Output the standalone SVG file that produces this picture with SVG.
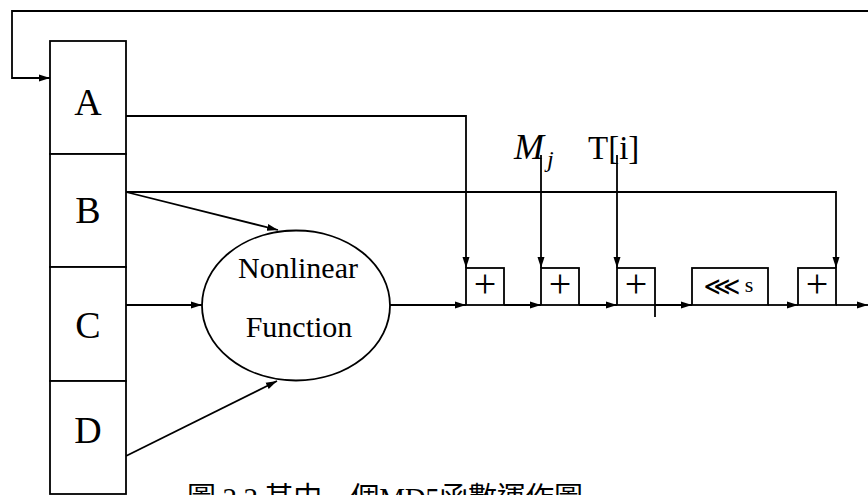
<svg xmlns="http://www.w3.org/2000/svg" width="868" height="495" viewBox="0 0 868 495">
<defs>
<marker id="ah" markerWidth="11" markerHeight="8" refX="11" refY="4" orient="auto" markerUnits="userSpaceOnUse">
<path d="M0,0.5 L11,4 L0,7.5 z" fill="#000"/>
</marker>
<style>
.box{fill:#fff;stroke:#000;stroke-width:1.8}
.ln{fill:none;stroke:#000;stroke-width:1.8}
.ar{fill:none;stroke:#000;stroke-width:1.8;marker-end:url(#ah)}
.reg{font-family:"Liberation Serif",serif;font-size:38px;text-anchor:middle}
.fn{font-family:"Liberation Serif",serif;font-size:30px;text-anchor:middle}
.pl{font-family:"Liberation Serif",serif;font-size:40px;text-anchor:middle}
.lab{font-family:"Liberation Serif",serif;font-size:33px}
</style>
</defs>
<rect width="868" height="495" fill="#fff"/>

<g id="connectors">
<polyline class="ar" points="868,11 12,11 12,78 50,78"/>
<polyline class="ar" points="126,116 466,116 466,268"/>
<polyline class="ar" points="126,192 836,192 836,268"/>
<line class="ar" x1="126" y1="192" x2="278" y2="230"/>
<line class="ar" x1="126" y1="305" x2="202" y2="305"/>
<line class="ar" x1="126" y1="456" x2="277" y2="381"/>
<line class="ar" x1="390" y1="305" x2="466" y2="305"/>
<line class="ar" x1="541" y1="155" x2="541" y2="268"/>
<line class="ar" x1="617" y1="155" x2="617" y2="268"/>
<line class="ar" x1="504" y1="305" x2="541" y2="305"/>
<line class="ar" x1="579" y1="305" x2="617" y2="305"/>
<line class="ar" x1="655" y1="305" x2="692" y2="305"/>
<line class="ar" x1="768" y1="305" x2="798" y2="305"/>
<line class="ar" x1="836" y1="305" x2="868" y2="305"/>
</g>

<g id="regA"><rect class="box" x="50" y="41" width="76" height="113"/><text class="reg" x="88" y="115">A</text></g>
<g id="regB"><rect class="box" x="50" y="154" width="76" height="113"/><text class="reg" x="88" y="223">B</text></g>
<g id="regC"><rect class="box" x="50" y="267" width="76" height="114"/><text class="reg" x="88" y="338">C</text></g>
<g id="regD"><rect class="box" x="50" y="381" width="76" height="113"/><text class="reg" x="88" y="443">D</text></g>

<g id="nonlinear">
<ellipse class="box" cx="296" cy="305.5" rx="94" ry="75"/>
<text class="fn" x="298" y="278">Nonlinear</text>
<text class="fn" x="299" y="337">Function</text>
</g>

<g id="add1"><rect class="box" x="466" y="268" width="38" height="37"/><text class="pl" x="485" y="297">+</text></g>
<g id="add2"><rect class="box" x="541" y="268" width="38" height="37"/><text class="pl" x="560" y="297">+</text></g>
<g id="add3"><rect class="box" x="617" y="268" width="38" height="37"/><line class="ln" x1="655" y1="305" x2="655" y2="317"/><text class="pl" x="636" y="297">+</text></g>
<g id="shift"><rect class="box" x="692" y="268" width="76" height="37"/>
<text x="722" y="295" font-family="DejaVu Sans,sans-serif" font-size="26" text-anchor="middle">⋘</text>
<text x="749" y="292" font-family="Liberation Serif,serif" font-size="22" text-anchor="middle">s</text></g>
<g id="add4"><rect class="box" x="798" y="268" width="38" height="37"/><text class="pl" x="817" y="297">+</text></g>

<g id="labels">
<text x="514" y="159" font-family="Liberation Serif,serif" font-size="36" font-style="italic">M</text>
<text x="547" y="167" font-family="Liberation Serif,serif" font-size="24" font-style="italic">j</text>
<text class="lab" x="588" y="159">T[i]</text>
</g>

<text x="187" y="508" font-family="Liberation Serif,'Noto Sans CJK TC',serif" font-size="29" textLength="396">圖 2.2 其中一個MD5函數運作圖</text>
</svg>
